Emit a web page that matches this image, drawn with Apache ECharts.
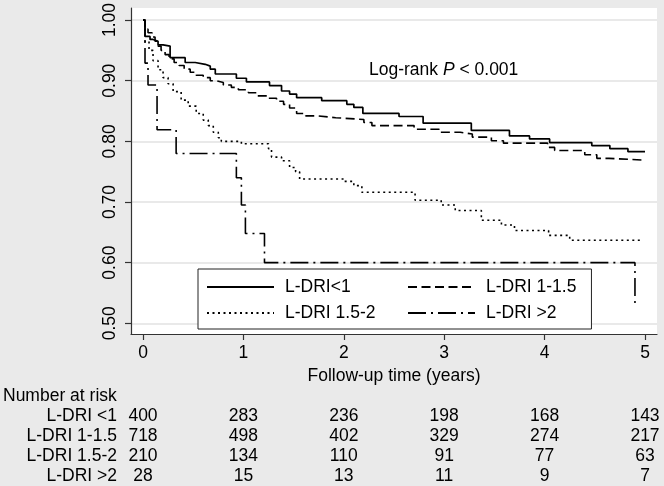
<!DOCTYPE html>
<html><head><meta charset="utf-8">
<script src="https://cdn.jsdelivr.net/npm/echarts@6/dist/echarts.min.js"></script>
<style>html,body{margin:0;padding:0;background:#eaeaea;}#c{width:664px;height:486px;}</style>
</head><body><div id="c"></div>
<script>
const seriesNames = ['L-DRI<1', 'L-DRI 1-1.5', 'L-DRI 1.5-2', 'L-DRI >2'];

const ltOneTime = [0,0.02,0.07,0.10,0.15,0.20,0.27,0.42,0.52,0.62,0.67,0.72,0.93,1.03,1.26,1.38,1.46,1.53,1.78,2.03,2.10,2.19,2.55,2.79,3.27,3.65,3.85,4.05,4.47,4.65,4.83,5.00];
const ltOneSurv = [1,0.973,0.968,0.965,0.959,0.957,0.938,0.930,0.927,0.924,0.919,0.911,0.904,0.898,0.892,0.883,0.878,0.872,0.867,0.861,0.856,0.846,0.841,0.830,0.818,0.809,0.804,0.798,0.793,0.788,0.783,0.783];

const oneTime = [0,0.02,0.05,0.09,0.12,0.15,0.18,0.22,0.26,0.31,0.36,0.41,0.47,0.53,0.60,0.67,0.73,0.80,0.88,0.95,1.05,1.14,1.25,1.33,1.40,1.46,1.53,1.62,1.73,1.92,2.20,2.28,2.70,2.95,3.16,3.28,3.47,3.59,4.03,4.10,4.40,4.52,4.64,5.00];
const oneSurv = [1,0.985,0.979,0.972,0.965,0.957,0.950,0.943,0.936,0.930,0.925,0.919,0.914,0.909,0.905,0.900,0.897,0.893,0.889,0.885,0.880,0.875,0.871,0.866,0.861,0.855,0.846,0.842,0.839,0.836,0.831,0.826,0.820,0.815,0.812,0.807,0.801,0.797,0.790,0.785,0.778,0.772,0.769,0.769];

const midTime = [0,0.02,0.06,0.10,0.15,0.20,0.25,0.30,0.38,0.45,0.53,0.60,0.65,0.70,0.75,0.78,0.98,1.25,1.28,1.38,1.46,1.52,1.56,2.00,2.10,2.18,2.71,2.97,3.11,3.37,3.57,3.70,4.04,4.25,4.98];
const midSurv = [1,0.965,0.95,0.933,0.918,0.905,0.895,0.882,0.868,0.858,0.846,0.835,0.826,0.815,0.806,0.80,0.796,0.788,0.774,0.768,0.757,0.750,0.738,0.734,0.727,0.716,0.703,0.695,0.686,0.670,0.662,0.653,0.645,0.637,0.637];

const gtTwoTime = [0,0.02,0.05,0.14,0.33,0.93,0.98,1.02,1.21,4.90];
const gtTwoSurv = [1,0.929,0.893,0.819,0.780,0.740,0.695,0.648,0.600,0.533];

const xTicks = [0,1,2,3,4,5];
const yTicks = [0.5,0.6,0.7,0.8,0.9,1.0];

const riskTitle = 'Number at risk';
const riskLabels = ['L-DRI <1', 'L-DRI 1-1.5', 'L-DRI 1.5-2', 'L-DRI >2'];
const riskTimes = [0,1,2,3,4,5];
const riskLtOne = [400,283,236,198,168,143];
const riskOne = [718,498,402,329,274,217];
const riskMid = [210,134,110,91,77,63];
const riskGtTwo = [28,15,13,11,9,7];

const FONT = '"Liberation Sans", Arial, Helvetica, sans-serif';
const FS = 17.5;
const zip = (a, b) => a.map((v, i) => [v, b[i]]);

const chart = echarts.init(document.getElementById('c'));
const mk = (name, t, s, type, w) => ({
  name, type: 'line', step: 'end', symbol: 'none', silent: true,
  data: zip(t, s),
  lineStyle: { color: '#000', width: w, type: type },
  itemStyle: { color: '#000' }
});

const legendBase = {
  orient: 'vertical', top: 269, height: 50,
  itemWidth: 67, itemHeight: 14, itemGap: 8,
  selectedMode: false,
  itemStyle: { opacity: 0 },
  textStyle: { fontSize: FS, color: '#000', fontFamily: FONT, padding: [0, 0, 0, 6] }
};

chart.setOption({
  backgroundColor: '#eaeaea',
  animation: false,
  textStyle: { fontFamily: FONT },
  grid: { left: 131, right: 7, top: 7, bottom: 152, show: true, backgroundColor: '#fff', borderWidth: 0 },
  xAxis: {
    type: 'value', min: -0.1195, max: 5.1195,
    name: 'Follow-up time (years)', nameLocation: 'middle', nameGap: 26,
    nameTextStyle: { fontSize: FS, color: '#000', fontFamily: FONT },
    axisLine: { show: true, onZero: false, lineStyle: { color: '#333', width: 1.2 } },
    axisTick: { show: true, length: 6, customValues: xTicks, lineStyle: { color: '#333', width: 1.2 } },
    axisLabel: { customValues: xTicks, fontSize: FS, color: '#000', margin: 10, fontFamily: FONT },
    splitLine: { show: false }
  },
  yAxis: {
    type: 'value', min: 0.4824, max: 1.0197,
    axisLine: { show: true, onZero: false, lineStyle: { color: '#333', width: 1.2 } },
    axisTick: { show: true, length: 6, customValues: yTicks, lineStyle: { color: '#333', width: 1.2 } },
    axisLabel: { customValues: yTicks, rotate: 90, fontSize: FS, color: '#000', margin: 12, fontFamily: FONT,
      formatter: v => v.toFixed(2) },
    splitLine: { show: true, lineStyle: { color: '#e2e2e2', width: 1.5 } }
  },
  legend: [
    Object.assign({}, legendBase, {
      left: 198, data: ['L-DRI<1', 'L-DRI 1.5-2'],
      padding: [9, 216, 7, 8],
      backgroundColor: '#fff', borderColor: '#222', borderWidth: 1
    }),
    Object.assign({}, legendBase, {
      left: 407, data: ['L-DRI 1-1.5', 'L-DRI >2'],
      padding: [9, 0, 7, 0], z: 6
    })
  ],
  series: [
    mk(seriesNames[0], ltOneTime, ltOneSurv, 'solid', 1.7),
    mk(seriesNames[1], oneTime, oneSurv, [9, 4.5], 1.6),
    mk(seriesNames[2], midTime, midSurv, [2, 3.5], 1.6),
    mk(seriesNames[3], gtTwoTime, gtTwoSurv, [18, 5, 2, 5], 1.6)
  ]
});

// Number-at-risk table and annotation, positioned via the chart's x scale
const rows = [riskLtOne, riskOne, riskMid, riskGtTwo];
const rowY0 = 396.5, rowStep = 19.9;
const txt = (x, y, text, align) => ({ type: 'text', x, y, style: { text, font: FS + 'px ' + FONT, fill: '#000', align, verticalAlign: 'middle' } });
const els = [txt(3, rowY0, riskTitle, 'left')];
rows.forEach((r, i) => {
  const y = rowY0 + rowStep * (i + 1);
  els.push(txt(117, y, riskLabels[i], 'right'));
  r.forEach((v, j) => {
    els.push(txt(chart.convertToPixel({ xAxisIndex: 0 }, riskTimes[j]), y, String(v), 'center'));
  });
});
els.push({ type: 'text', x: 369, y: 70, style: {
  text: '{n|Log-rank }{i|P}{n| < 0.001}', align: 'left', verticalAlign: 'middle',
  rich: { n: { fontSize: FS, fontFamily: FONT, fill: '#000' }, i: { fontSize: FS, fontFamily: FONT, fontStyle: 'italic', fill: '#000' } }
} });
chart.setOption({ graphic: { elements: els } });
</script>
</body></html>
